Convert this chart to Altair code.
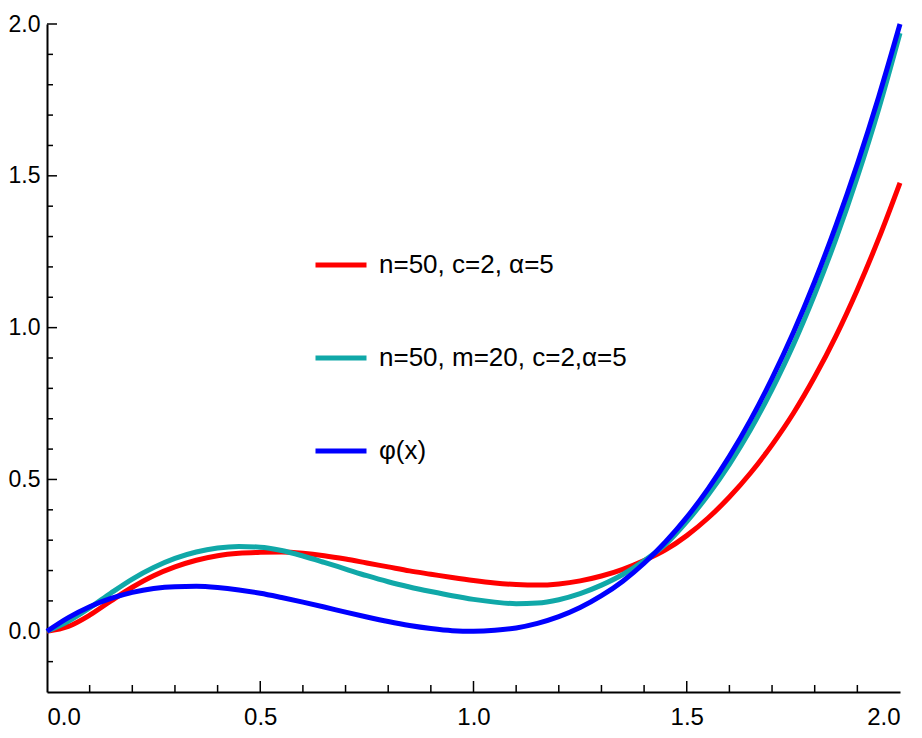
import altair as alt
import pandas as pd

FONT = "Liberation Sans, Arial, sans-serif"

# sample positions
x_vals = [0.0, 0.05, 0.1, 0.15, 0.2, 0.25, 0.3, 0.35, 0.4, 0.45,
          0.5, 0.55, 0.6, 0.65, 0.7, 0.75, 0.8, 0.85, 0.9, 0.95,
          1.0, 1.05, 1.1, 1.15, 1.2, 1.25, 1.3, 1.35, 1.4, 1.45,
          1.5, 1.55, 1.6, 1.65, 1.7, 1.75, 1.8, 1.85, 1.9, 1.95, 2.0]

# n=50, c=2, alpha=5 (red)
red_vals = [0.0, 0.016, 0.053, 0.100, 0.145, 0.183, 0.212, 0.234, 0.249, 0.257,
            0.260, 0.261, 0.257, 0.249, 0.238, 0.225, 0.212, 0.199, 0.188, 0.177,
            0.167, 0.159, 0.154, 0.152, 0.156, 0.166, 0.182, 0.204, 0.233, 0.268,
            0.315, 0.373, 0.442, 0.522, 0.614, 0.718, 0.838, 0.973, 1.125, 1.293, 1.477]

# n=50, m=20, c=2, alpha=5 (teal)
teal_vals = [0.0, 0.033, 0.077, 0.126, 0.172, 0.210, 0.240, 0.261, 0.274, 0.279,
             0.277, 0.266, 0.248, 0.227, 0.205, 0.183, 0.163, 0.146, 0.131, 0.117,
             0.105, 0.096, 0.091, 0.093, 0.104, 0.124, 0.152, 0.187, 0.232, 0.286,
             0.361, 0.449, 0.550, 0.665, 0.797, 0.944, 1.110, 1.293, 1.496, 1.720, 1.970]

# phi(x) (blue)
blue_vals = [0.0, 0.045, 0.081, 0.108, 0.128, 0.141, 0.147, 0.148, 0.144, 0.136,
             0.125, 0.111, 0.096, 0.080, 0.063, 0.047, 0.032, 0.019, 0.009, 0.002,
             0.0, 0.003, 0.011, 0.026, 0.048, 0.078, 0.117, 0.165, 0.224, 0.294,
             0.375, 0.469, 0.576, 0.697, 0.833, 0.984, 1.152, 1.337, 1.539, 1.760, 2.0]

series_names = ["n=50, c=2, α=5", "n=50, m=20, c=2,α=5", "φ(x)"]
series_colors = ["#ff0000", "#10a8a8", "#0000ff"]

axis_labels = [0.0, 0.5, 1.0, 1.5, 2.0]
x_minor_ticks = [0.1, 0.2, 0.3, 0.4, 0.6, 0.7, 0.8, 0.9, 1.1, 1.2, 1.3, 1.4, 1.6, 1.7, 1.8, 1.9]
x_major_ticks = [0.5, 1.0, 1.5]
y_minor_ticks = [-0.1, 0.1, 0.2, 0.3, 0.4, 0.6, 0.7, 0.8, 0.9, 1.1, 1.2, 1.3, 1.4, 1.6, 1.7, 1.8, 1.9]
y_major_ticks = [0.0, 0.5, 1.0, 1.5, 2.0]

rows = []
for name, vals in zip(series_names, [red_vals, teal_vals, blue_vals]):
    for xv, yv in zip(x_vals, vals):
        rows.append({"x": xv, "y": yv, "series": name})
df = pd.DataFrame(rows)

W, H = 853, 668

xscale = alt.Scale(domain=[0, 2], nice=False, zero=False)
yscale = alt.Scale(domain=[-0.2, 2.0], nice=False, zero=False)

xaxis = alt.Axis(values=axis_labels, format=".1f", ticks=False, grid=False,
                 labelPadding=13, domainWidth=2, domainColor="black",
                 labelFont=FONT, labelFontSize=24, labelColor="black", title=None)
yaxis = alt.Axis(values=axis_labels, format=".1f", ticks=False, grid=False,
                 labelPadding=7, domainWidth=2, domainColor="black",
                 labelFont=FONT, labelFontSize=23, labelColor="black", title=None)

lines = alt.Chart(df).mark_line(strokeWidth=5, interpolate="monotone").encode(
    x=alt.X("x:Q", scale=xscale, axis=xaxis),
    y=alt.Y("y:Q", scale=yscale, axis=yaxis),
    color=alt.Color("series:N",
                    scale=alt.Scale(domain=series_names, range=series_colors),
                    sort=series_names,
                    legend=alt.Legend(orient="none", legendX=266, legendY=213,
                                      title=None, symbolType="stroke",
                                      symbolSize=2601, symbolStrokeWidth=5,
                                      labelFont=FONT, labelFontSize=26,
                                      labelColor="black", labelOffset=10,
                                      rowPadding=52, padding=0, labelLimit=0)),
    order=alt.Order("x:Q"),
)

def vrules(vals, length):
    d = pd.DataFrame({"t": vals})
    return alt.Chart(d).mark_rule(color="black", strokeWidth=1.5).encode(
        x=alt.X("t:Q", scale=xscale),
        y=alt.value(H),
        y2=alt.value(H - length),
    )

def hrules(vals, length):
    d = pd.DataFrame({"t": vals})
    return alt.Chart(d).mark_rule(color="black", strokeWidth=1.5).encode(
        y=alt.Y("t:Q", scale=yscale),
        x=alt.value(0),
        x2=alt.value(length),
    )

chart = alt.layer(
    vrules(x_minor_ticks, 7),
    vrules(x_major_ticks, 11),
    hrules(y_minor_ticks, 6),
    hrules(y_major_ticks, 10),
    lines,
).properties(
    width=W, height=H,
    padding={"left": 0, "top": 5, "right": 0, "bottom": 0},
    background="white",
).configure_view(stroke=None)

chart.save("out.html", embed_options={"renderer": "svg", "actions": False})
